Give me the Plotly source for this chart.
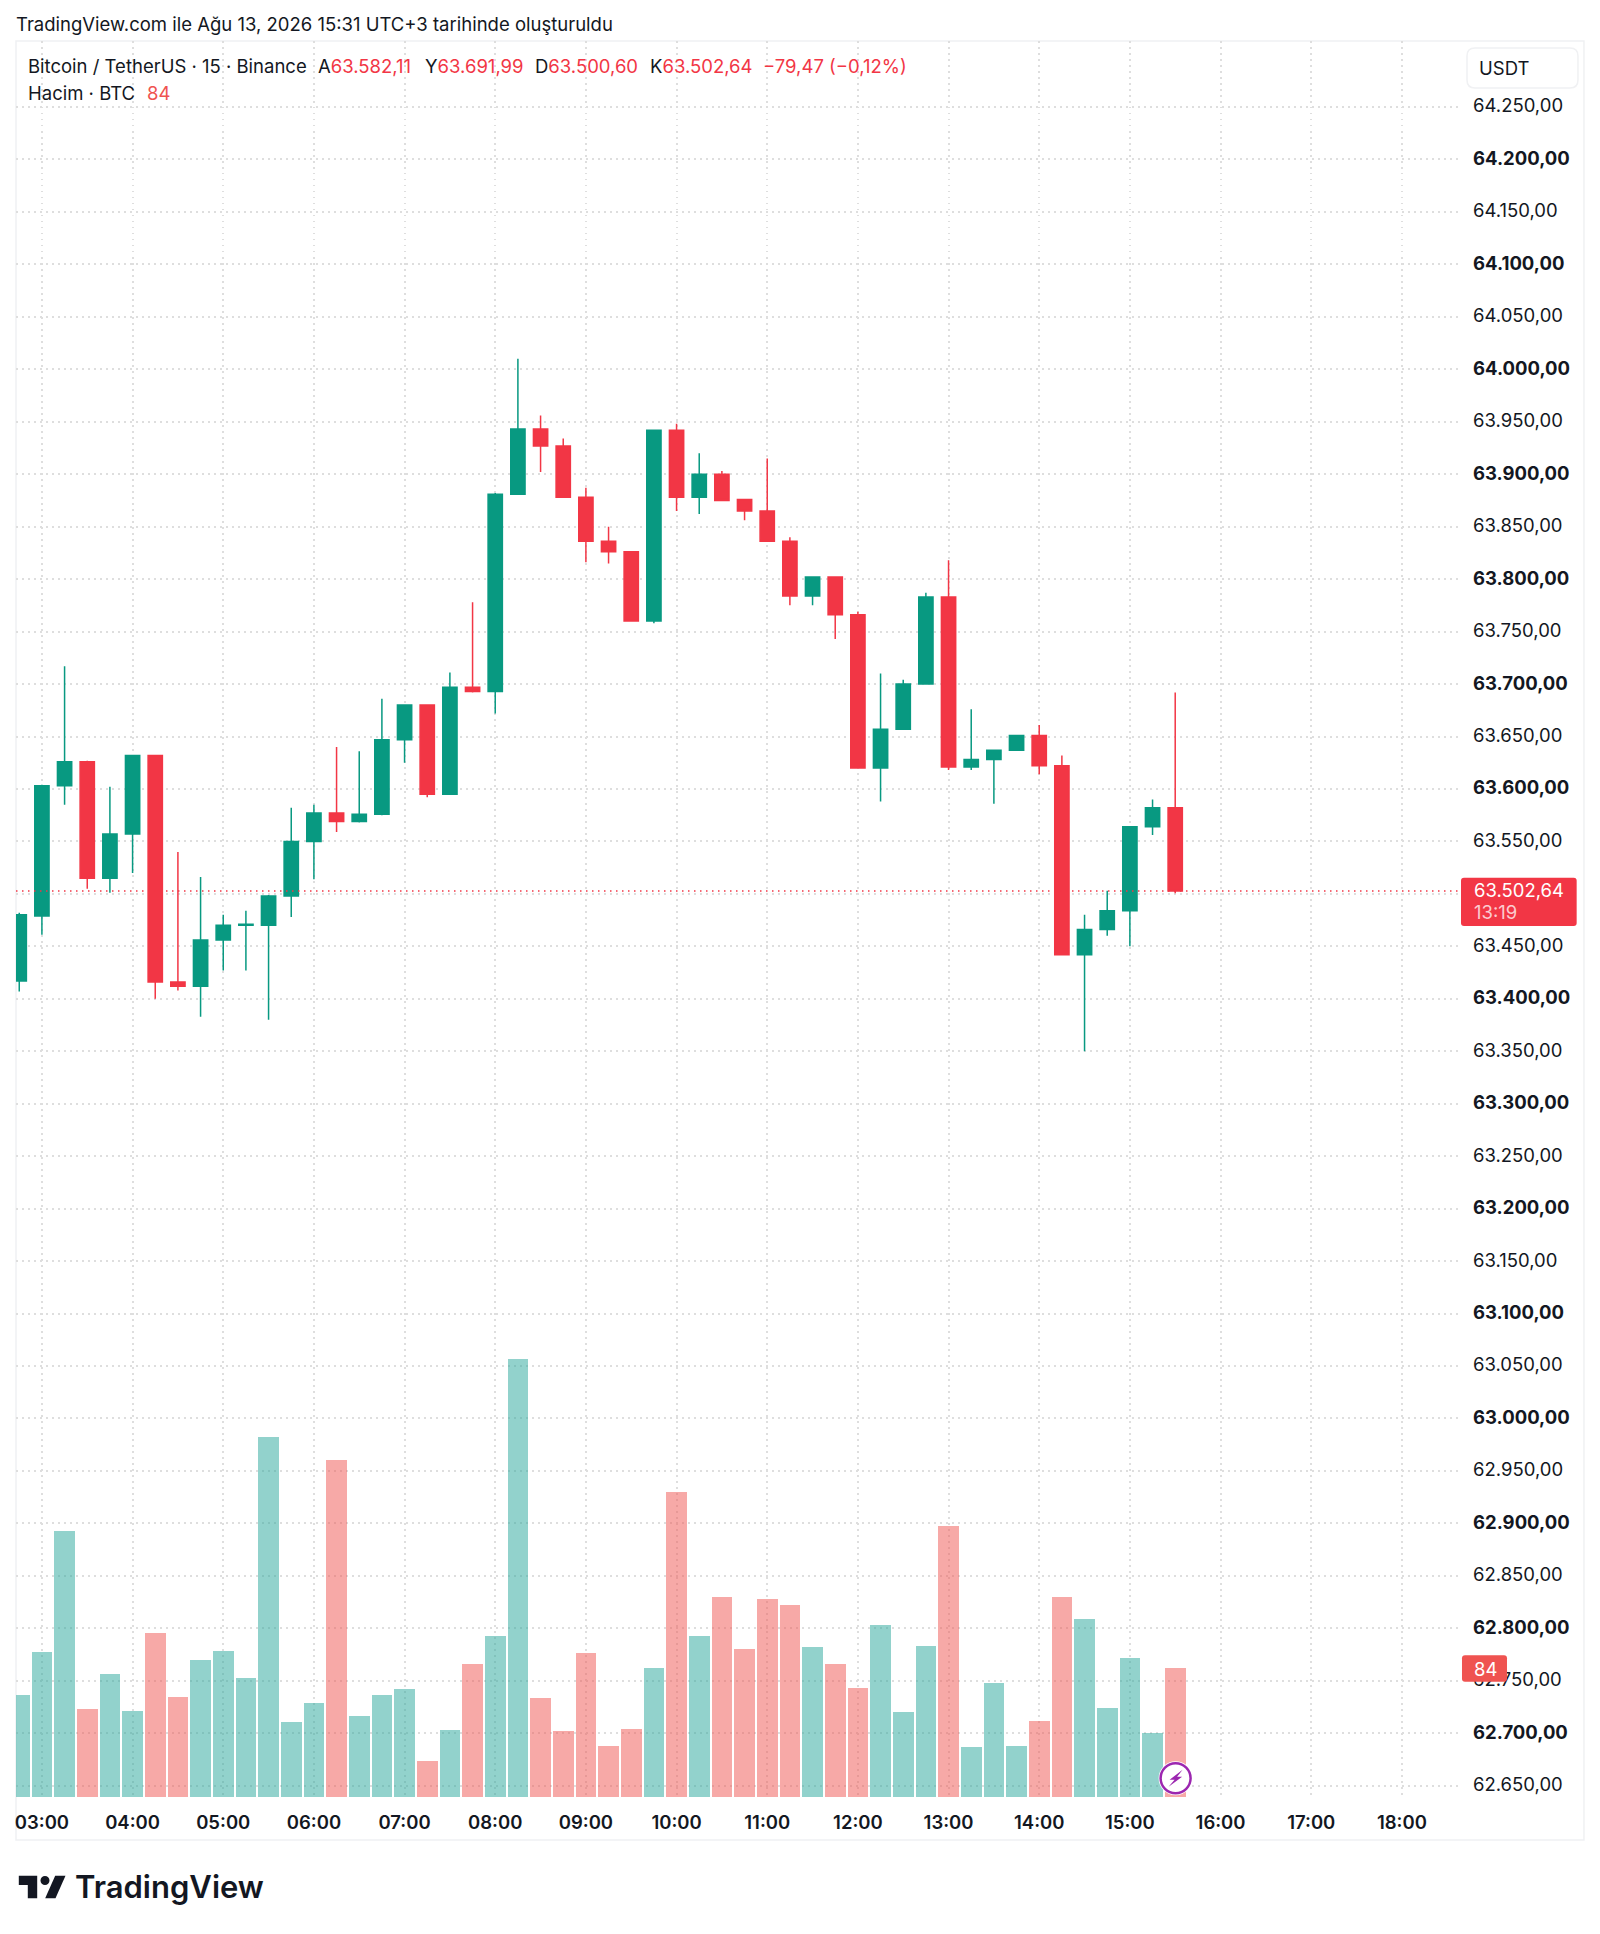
import plotly.graph_objects as go

# ---------- data ----------
times = ["02:45","03:00","03:15","03:30","03:45","04:00","04:15","04:30","04:45","05:00","05:15","05:30","05:45",
         "06:00","06:15","06:30","06:45","07:00","07:15","07:30","07:45","08:00","08:15","08:30","08:45","09:00",
         "09:15","09:30","09:45","10:00","10:15","10:30","10:45","11:00","11:15","11:30","11:45","12:00","12:15",
         "12:30","12:45","13:00","13:15","13:30","13:45","14:00","14:15","14:30","14:45","15:00","15:15","15:30"]
opens = [63417,63479,63603,63626,63515,63557,63632,63416,63412,63456,63470,63470,63498,
         63550,63577,63569,63576,63647,63680,63595,63697,63693,63881,63943,63927,63878,
         63836,63826,63760,63942,63878,63900,63876,63865,63836,63784,63802,63766,63620,
         63657,63700,63783,63621,63628,63637,63651,63622,63442,63466,63484,63564,63582.11]
highs = [63482,63604,63717,63627,63602,63632,63632,63540,63516,63480,63484,63499,63582,
         63585,63640,63636,63686,63680,63680,63711,63778,63882,64010,63956,63934,63887,
         63850,63826,63942,63948,63920,63903,63876,63915,63840,63802,63802,63769,63710,
         63704,63787,63818,63676,63637,63651,63661,63632,63480,63503,63564,63590,63691.99]
lows = [63407,63461,63585,63505,63501,63520,63400,63408,63383,63427,63427,63380,63478,
        63514,63559,63568,63575,63625,63592,63595,63692,63672,63881,63902,63878,63816,
        63815,63760,63758,63865,63862,63875,63856,63836,63775,63775,63743,63620,63588,
        63657,63700,63618,63618,63586,63637,63614,63442,63350,63460,63450,63556,63500.60]
closes = [63480,63603,63626,63515,63557,63632,63416,63412,63456,63470,63471,63498,63550,
          63577,63569,63576,63647,63680,63595,63697,63693,63881,63943,63927,63878,63836,
          63826,63760,63942,63878,63900,63875,63865,63836,63784,63802,63766,63620,63657,
          63700,63783,63621,63628,63637,63651,63622,63442,63466,63484,63564,63582.11,63502.64]
volumes = [66.8,94.6,173.4,57.4,80.5,56.4,106.8,65.5,89.6,95.1,77.9,234.8,49.2,
           61.4,220.2,52.9,66.8,70.5,23.3,43.7,86.6,104.9,286.1,64.4,43.3,94.2,
           33.5,44.2,84.4,198.9,104.9,130.5,96.6,129.0,125.1,98.1,86.6,70.9,112.3,
           55.7,98.8,177.1,32.6,74.4,33.5,49.6,130.5,116.4,58.1,90.7,41.8,84]

price_ticks = [64250,64200,64150,64100,64050,64000,63950,63900,63850,63800,63750,63700,63650,63600,63550,63500,
               63450,63400,63350,63300,63250,63200,63150,63100,63050,63000,62950,62900,62850,62800,62750,62700,62650]
price_labels = ["64.250,00","<b>64.200,00</b>","64.150,00","<b>64.100,00</b>","64.050,00","<b>64.000,00</b>",
                "63.950,00","<b>63.900,00</b>","63.850,00","<b>63.800,00</b>","63.750,00","<b>63.700,00</b>",
                "63.650,00","<b>63.600,00</b>","63.550,00","","63.450,00","<b>63.400,00</b>",
                "63.350,00","<b>63.300,00</b>","63.250,00","<b>63.200,00</b>","63.150,00","<b>63.100,00</b>",
                "63.050,00","<b>63.000,00</b>","62.950,00","<b>62.900,00</b>","62.850,00","<b>62.800,00</b>",
                "62.750,00","<b>62.700,00</b>","62.650,00"]
last_price = 63502.64
last_volume = 84

# ---------- style ----------
W, H = 1600, 1934
L, R, T, B = 15.5, 1460, 41, 1797
UP, DOWN = "#089981", "#F23645"
VUP, VDOWN = "rgba(38,166,154,0.5)", "rgba(239,83,80,0.5)"
INK = "#131722"
GRID = "#dedede"
FONT = "Inter"
FS = 18.5
DAY = "2026-08-13 "
OUTLINE = "#f0f1f3"

def px(x):
    return (x - L) / (R - L)

def py(y):
    return (B - y) / (B - T)

xs = [DAY + t for t in times]
vol_colors = [VUP if c >= o else VDOWN for o, c in zip(opens, closes)]

fig = go.Figure()
fig.add_trace(go.Bar(x=xs, y=volumes, yaxis="y2", marker=dict(color=vol_colors, line=dict(width=0)),
                     width=[820000] * len(xs), showlegend=False, hoverinfo="skip"))
fig.add_trace(go.Candlestick(x=xs, open=opens, high=highs, low=lows, close=closes, yaxis="y",
                             increasing=dict(line=dict(color=UP, width=1.5), fillcolor=UP),
                             decreasing=dict(line=dict(color=DOWN, width=1.5), fillcolor=DOWN),
                             whiskerwidth=0, showlegend=False, hoverinfo="skip"))

ann = []
def text(x, y, s, size=FS, color=INK, weight=None, anchor="left"):
    f = dict(family=FONT, size=size, color=color)
    if weight:
        f["weight"] = weight
    ann.append(dict(xref="paper", yref="paper", x=px(x), y=py(y), text=s, showarrow=False,
                    xanchor=anchor, yanchor="middle", font=f, borderpad=0))

def red(s):
    return f'<span style="color:{DOWN}">{s}</span>'

text(14.5, 24, "TradingView.com ile Ağu 13, 2026 15:31 UTC+3 tarihinde oluşturuldu")
text(26.5, 66, "Bitcoin / TetherUS · 15 · Binance")
text(316.5, 66, "A" + red("63.582,11"))
text(423.5, 66, "Y" + red("63.691,99"))
text(533.5, 66, "D" + red("63.500,60"))
text(648.5, 66, "K" + red("63.502,64"))
text(761.5, 66, "−79,47 (−0,12%)", FS, DOWN)
text(26.5, 93, "Hacim · BTC")
text(145.5, 93, "84", FS, "#EF5350")
text(1478.5, 68, "USDT")
text(1473.5, 890, "63.502,64", FS, "#ffffff")
text(1473.5, 912, "13:19", FS, "rgba(255,255,255,0.75)")
text(1473.5, 1669, "84", FS, "#ffffff")
text(73.5, 1887, "TradingView", 31, "#131722", weight=600)

def rect(x0, y0, x1, y1, kind="rect", **kw):
    return dict(type=kind, xref="paper", yref="paper", x0=px(x0), x1=px(x1), y0=py(y0), y1=py(y1), **kw)

def path(points, **kw):
    d = "M" + " L".join(f"{px(a):.5f},{py(b):.5f}" for a, b in points) + " Z"
    return dict(type="path", xref="paper", yref="paper", path=d, **kw)

def rounded(x0, y0, x1, y1, r):
    d = (f"M{px(x0+r):.5f},{py(y0):.5f} L{px(x1-r):.5f},{py(y0):.5f} "
         f"Q{px(x1):.5f},{py(y0):.5f} {px(x1):.5f},{py(y0+r):.5f} "
         f"L{px(x1):.5f},{py(y1-r):.5f} Q{px(x1):.5f},{py(y1):.5f} {px(x1-r):.5f},{py(y1):.5f} "
         f"L{px(x0+r):.5f},{py(y1):.5f} Q{px(x0):.5f},{py(y1):.5f} {px(x0):.5f},{py(y1-r):.5f} "
         f"L{px(x0):.5f},{py(y0+r):.5f} Q{px(x0):.5f},{py(y0):.5f} {px(x0+r):.5f},{py(y0):.5f} Z")
    return d

bx, by = 1175.5, 1778.3
shapes = [
    rect(L, T, 1584, 1840, line=dict(color=OUTLINE, width=1.5), fillcolor="rgba(0,0,0,0)", layer="below"),
    dict(type="line", xref="paper", yref="y", x0=0, x1=1, y0=last_price, y1=last_price,
         line=dict(color=DOWN, width=1.5, dash="1.5px,4.5px"), layer="above"),
    dict(type="path", xref="paper", yref="paper", path=rounded(1467, 48, 1578, 88, 8),
         line=dict(color="#f0f1f3", width=1.5), fillcolor="#ffffff", layer="above"),
    dict(type="path", xref="paper", yref="paper", path=rounded(1461, 877.7, 1576.7, 926, 3),
         line=dict(width=0), fillcolor=DOWN, layer="above"),
    dict(type="path", xref="paper", yref="paper", path=rounded(1462, 1655.3, 1507, 1681.7, 3),
         line=dict(width=0), fillcolor="#EF5350", layer="above"),
    rect(bx - 17, by - 17, bx + 17, by + 17, kind="circle", fillcolor="#ffffff", line=dict(width=0), layer="above"),
    rect(bx - 15, by - 15, bx + 15, by + 15, kind="circle", fillcolor="#ffffff",
         line=dict(color="#9C27B0", width=2.5), layer="above"),
    path([(bx + 7, by - 8.5), (bx - 6, by + 1.5), (bx - 1, by + 1.5), (bx - 7, by + 8.5), (bx + 6.5, by - 1.5),
          (bx + 1.5, by - 1.5)], fillcolor="#9C27B0", line=dict(width=0), layer="above"),
    # TradingView logo
    path([(18.3, 1875.7), (36.7, 1875.7), (36.7, 1898.3), (27.3, 1898.3), (27.3, 1885), (18.3, 1885)],
         fillcolor="#131722", line=dict(width=0), layer="above"),
    rect(40, 1876, 49, 1885, kind="circle", fillcolor="#131722", line=dict(width=0), layer="above"),
    path([(54.7, 1875.7), (65, 1875.7), (55, 1898.3), (44.7, 1898.3)],
         fillcolor="#131722", line=dict(width=0), layer="above"),
]

grid_style = dict(showgrid=True, gridcolor=GRID, gridwidth=1.5, griddash="1.5px,4.5px", zeroline=False,
                  showline=False, ticks="")

fig.update_layout(
    width=W, height=H,
    margin=dict(l=L, r=W - R, t=T, b=H - B, pad=0, autoexpand=False),
    paper_bgcolor="#ffffff", plot_bgcolor="#ffffff",
    boxgap=0.1, bargap=0,
    xaxis=dict(type="date", range=["2026-08-13 02:42:51", "2026-08-13 18:38:28"], tickformat="%H:%M",
               tick0="2026-08-13 03:00", dtick=3600000, rangeslider=dict(visible=False),
               tickfont=dict(family=FONT, size=FS, color=INK, weight=600), ticklabelstandoff=12, **grid_style),
    yaxis=dict(side="right", range=[62639.2, 64312.9], tickmode="array", tickvals=price_ticks, ticktext=price_labels,
               tickfont=dict(family=FONT, size=FS, color=INK), ticklabelstandoff=12, ticklabelshift=-1, **grid_style),
    yaxis2=dict(overlaying="y", side="right", range=[0, 1146.2], visible=False, showgrid=False),
    annotations=ann,
    shapes=shapes,
)

fig.write_html("out.html", config={"displayModeBar": False}, post_script="document.body.style.margin='0';")
